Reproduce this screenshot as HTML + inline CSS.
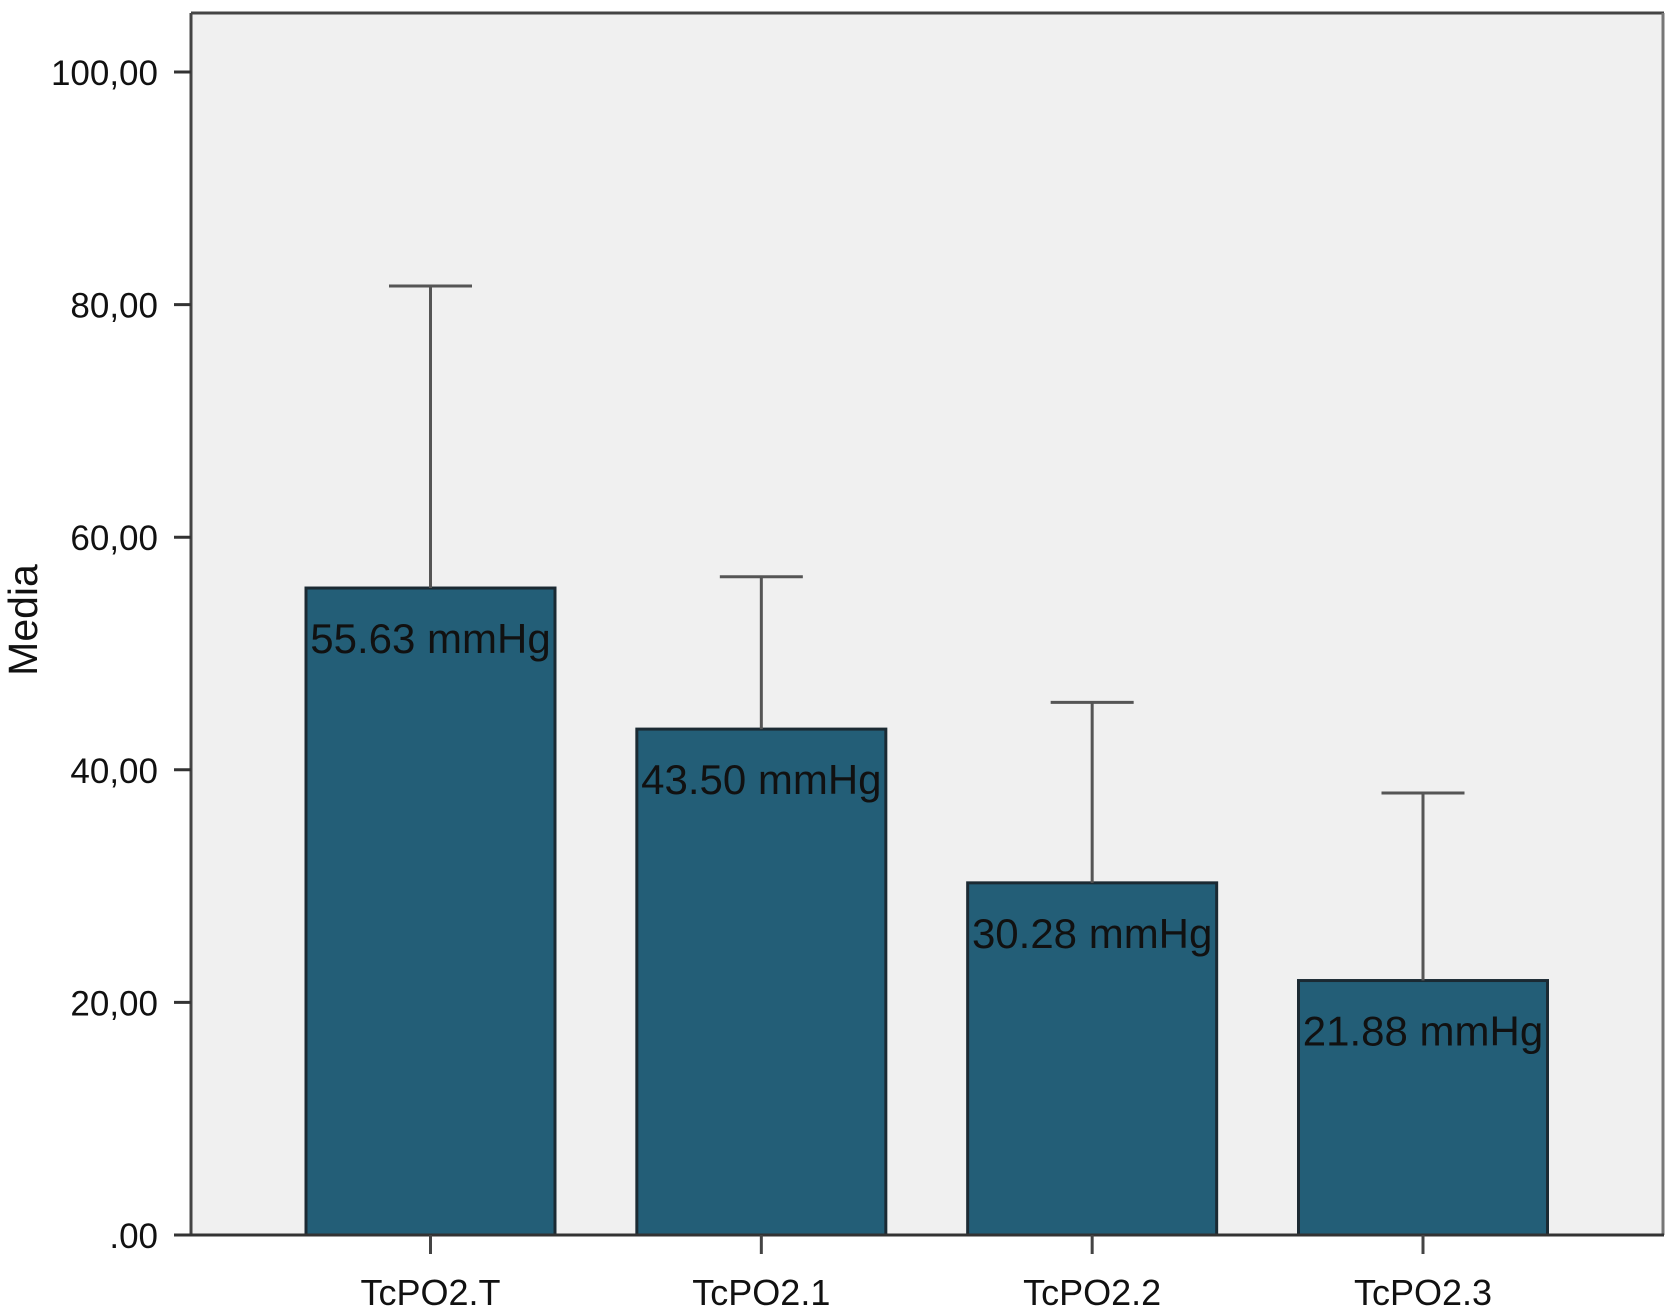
<!DOCTYPE html>
<html><head><meta charset="utf-8"><style>
html,body{margin:0;padding:0;background:#fff}
svg{display:block;font-family:"Liberation Sans",Arial,sans-serif}
</style></head><body>
<svg id="chart" width="1667" height="1310" viewBox="0 0 1667 1310">
<rect x="191" y="13" width="1473" height="1222" fill="#f0f0f0"/>
<g id="bars"></g>
<line x1="191" y1="13" x2="1664" y2="13" stroke="#444" stroke-width="3"/>
<line x1="1663" y1="13" x2="1663" y2="1235" stroke="#777" stroke-width="3"/>
<line x1="191" y1="13" x2="191" y2="1236" stroke="#444" stroke-width="3"/>
<line x1="174" y1="1235" x2="1664" y2="1235" stroke="#333" stroke-width="3"/>
<g id="yticks"></g>
<g id="xticks"></g>
<text transform="translate(37,620) rotate(-90)" text-anchor="middle" font-size="41" fill="#111">Media</text>
</svg>
<script>
const categories=["TcPO2.T","TcPO2.1","TcPO2.2","TcPO2.3"];
const means=[55.63,43.50,30.28,21.88];
const errTops=[81.6,56.6,45.8,38.0];
const valueLabels=["55.63 mmHg","43.50 mmHg","30.28 mmHg","21.88 mmHg"];
const yTicks=[0,20,40,60,80,100];
const yTickLabels=[".00","20,00","40,00","60,00","80,00","100,00"];
const NS="http://www.w3.org/2000/svg";
const left=191,right=1664,zeroY=1235,pxPerUnit=11.63;
const y=v=>zeroY-v*pxPerUnit;
const x0=430.5;
const xc=i=>x0+i*((1423-430.5)/3);
const bw=249,cap=83;
function mk(t,a,p){const e=document.createElementNS(NS,t);for(const k in a)e.setAttribute(k,a[k]);p.appendChild(e);return e;}
const gb=document.getElementById('bars');
categories.forEach((c,i)=>{
  const cx=xc(i);
  const r=mk('rect',{x:cx-bw/2,y:y(means[i]),width:bw,height:zeroY-y(means[i]),fill:'#235e77',stroke:'#1b2a33','stroke-width':3},gb);
  
  
  const el=mk('line',{x1:cx,y1:y(means[i]),x2:cx,y2:y(errTops[i]),stroke:'#555','stroke-width':3},gb);
  
  
  const ec=mk('line',{x1:cx-cap/2,y1:y(errTops[i]),x2:cx+cap/2,y2:y(errTops[i]),stroke:'#555','stroke-width':3},gb);
  
  
  const t=mk('text',{x:cx,y:y(means[i])+65,'text-anchor':'middle','font-size':42,fill:'#111'},gb);
  t.textContent=valueLabels[i];
  
  
});
const gy=document.getElementById('yticks');
yTicks.forEach((v,i)=>{
  const l=mk('line',{x1:174,y1:y(v),x2:191,y2:y(v),stroke:'#333','stroke-width':3},gy);
  
  
  const t=mk('text',{x:158,y:y(v)+13,'text-anchor':'end','font-size':35,fill:'#111'},gy);
  t.textContent=yTickLabels[i];
  
  
});
const gx=document.getElementById('xticks');
categories.forEach((c,i)=>{
  const cx=xc(i);
  const l=mk('line',{x1:cx,y1:zeroY,x2:cx,y2:zeroY+19,stroke:'#444','stroke-width':3},gx);
  
  
  const t=mk('text',{x:cx,y:1305,'text-anchor':'middle','font-size':36,fill:'#111'},gx);
  t.textContent=c;
  
  
});
</script>
</body></html>
